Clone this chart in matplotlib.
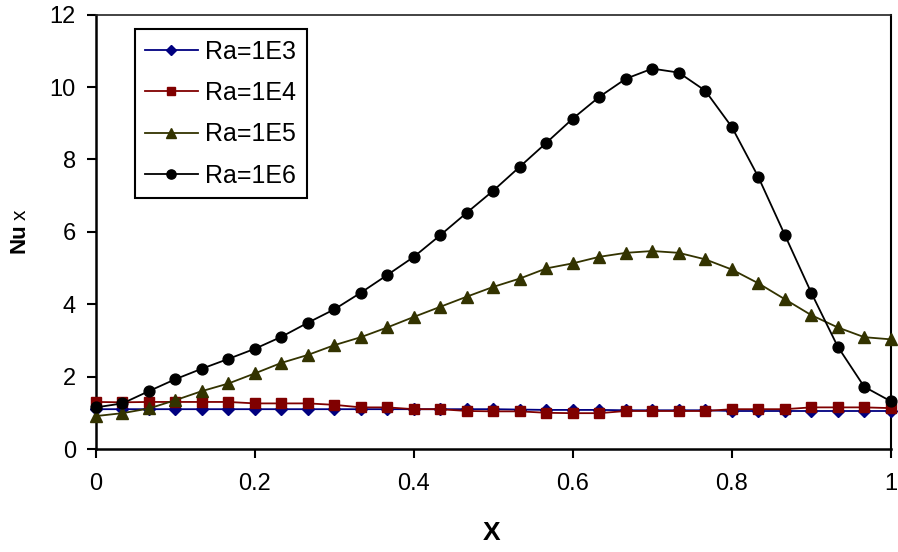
import numpy as np
import matplotlib
matplotlib.use("Agg")
import matplotlib.pyplot as plt

plt.rcParams['font.family'] = ['Liberation Sans', 'DejaVu Sans']

x = [i / 30 for i in range(31)]

nu_1e3 = [1.10, 1.10, 1.10, 1.10, 1.10, 1.10, 1.10, 1.10, 1.10, 1.10,
          1.10, 1.10, 1.10, 1.10, 1.10, 1.10, 1.09, 1.08, 1.08, 1.08,
          1.07, 1.07, 1.07, 1.07, 1.05, 1.05, 1.05, 1.05, 1.05, 1.05, 1.05]
nu_1e4 = [1.30, 1.29, 1.30, 1.30, 1.30, 1.30, 1.26, 1.26, 1.26, 1.22,
          1.15, 1.15, 1.10, 1.10, 1.05, 1.04, 1.04, 1.00, 0.99, 0.99,
          1.05, 1.05, 1.05, 1.05, 1.10, 1.10, 1.10, 1.15, 1.15, 1.15, 1.13]
nu_1e5 = [0.91, 0.99, 1.12, 1.35, 1.60, 1.81, 2.09, 2.38, 2.60, 2.87,
          3.09, 3.36, 3.65, 3.93, 4.21, 4.48, 4.71, 4.99, 5.13, 5.31,
          5.42, 5.47, 5.42, 5.24, 4.96, 4.58, 4.14, 3.70, 3.36, 3.09, 3.03]
nu_1e6 = [1.15, 1.26, 1.60, 1.93, 2.22, 2.49, 2.77, 3.10, 3.49, 3.86,
          4.32, 4.81, 5.31, 5.91, 6.53, 7.14, 7.80, 8.46, 9.13, 9.73,
          10.23, 10.51, 10.40, 9.90, 8.90, 7.52, 5.92, 4.32, 2.83, 1.72, 1.32]

labels = ["Ra=1E3", "Ra=1E4", "Ra=1E5", "Ra=1E6"]
xticks = [0, 0.2, 0.4, 0.6, 0.8, 1]
xtick_labels = ["0", "0.2", "0.4", "0.6", "0.8", "1"]
yticks = [0, 2, 4, 6, 8, 10, 12]

fig = plt.figure(figsize=(8.98, 5.52), dpi=100)
ax = fig.add_axes([96 / 898, 1 - 449 / 552, (890.7 - 96) / 898, (449 - 14.7) / 552])

styles = [
    dict(color="#000080", marker="D", ms=6.5),
    dict(color="#800000", marker="s", ms=7.0),
    dict(color="#333300", marker="^", ms=9.0),
    dict(color="#000000", marker="o", ms=7.8),
]
for ys, lab, st in zip([nu_1e3, nu_1e4, nu_1e5, nu_1e6], labels, styles):
    ax.plot(x, ys, color=st["color"], marker=st["marker"], markersize=st["ms"],
            markerfacecolor=st["color"], markeredgecolor=st["color"],
            linewidth=1.3, label=lab, clip_on=False, zorder=3)

ax.set_xlim(0, 1)
ax.set_ylim(0, 12)
ax.set_xticks(xticks)
ax.set_xticklabels(xtick_labels)
ax.set_yticks(yticks)
ax.tick_params(axis='both', direction='out', length=6.5, width=1.5, labelsize=17)
ax.tick_params(axis='x', pad=11)
ax.tick_params(axis='y', pad=8)

for s in ['left', 'bottom']:
    ax.spines[s].set_linewidth(1.8)
ax.spines['right'].set_linewidth(1.5)
ax.spines['top'].set_linewidth(1.2)
ax.spines['top'].set_color('#222222')

fig.text(492 / 898, 1 - 533 / 552, "X", fontsize=19, fontweight='bold',
         ha='center', va='center')
fig.text(19 / 898, 1 - 238.5 / 552, "Nu", rotation=90, fontsize=16, fontweight='bold',
         ha='center', va='center')
fig.text(20 / 898, 1 - 215 / 552, "x", rotation=90, fontsize=15,
         ha='center', va='center')

leg = ax.legend(loc='upper left', bbox_to_anchor=(38.5 / 794.7, 1 - 14.6 / 434.3), fontsize=18,
                frameon=True, fancybox=False, edgecolor='black', framealpha=1,
                borderpad=0.42, labelspacing=0.69, handlelength=2.1, handletextpad=0.3,
                borderaxespad=0, markerscale=0.85)
leg.get_frame().set_linewidth(1.5)

fig.savefig("out.png", dpi=100)
